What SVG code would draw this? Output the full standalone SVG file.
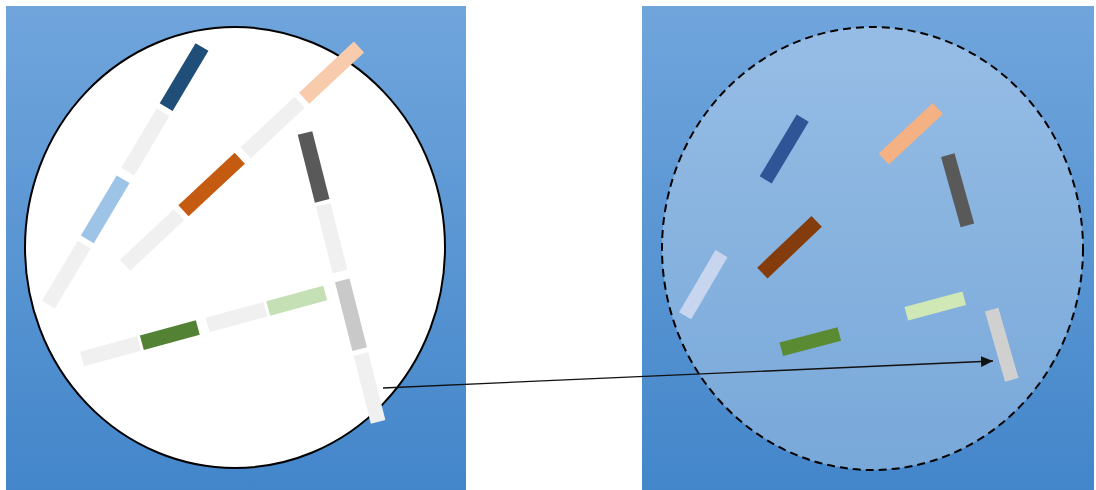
<svg xmlns="http://www.w3.org/2000/svg" width="1096" height="490" viewBox="0 0 1096 490">
<defs>
<linearGradient id="bg" x1="0" y1="0" x2="0" y2="1">
<stop offset="0" stop-color="#70a5dc"/>
<stop offset="1" stop-color="#4386ca"/>
</linearGradient>
<marker id="ah" markerWidth="13" markerHeight="11" refX="12" refY="5.5" orient="auto" markerUnits="userSpaceOnUse">
<path d="M0,0 L12,5.5 L0,11 Z" fill="#111"/>
</marker>
<style>
.lg{fill:#f0f0f0}
</style>
</defs>
<rect width="1096" height="490" fill="#ffffff"/>
<g id="left-panel">
<rect x="6" y="6" width="460" height="484" fill="url(#bg)"/>
<ellipse cx="235" cy="247.5" rx="210" ry="220.5" fill="#ffffff" stroke="#000" stroke-width="2"/>
</g>
<g id="strip1" transform="translate(202,47) rotate(120.8)">
<rect x="0" y="-7.5" width="70" height="15" fill="#1f4e79"/>
<rect class="lg" x="76" y="-7.5" width="69" height="15"/>
<rect x="154" y="-7.5" width="70" height="15" fill="#9dc3e6"/>
<rect class="lg" x="230" y="-7.5" width="70" height="15"/>
</g>
<g id="strip2" transform="translate(359,47) rotate(137)">
<rect x="0" y="-7.5" width="75" height="15" fill="#f8cbad"/>
<rect class="lg" x="81" y="-7.5" width="74" height="15"/>
<rect x="163" y="-7.5" width="77" height="15" fill="#c55a11"/>
<rect class="lg" x="246" y="-7.5" width="74" height="15"/>
</g>
<g id="strip3" transform="translate(305,133) rotate(75.8)">
<rect x="0" y="-7.5" width="70" height="15" fill="#595959"/>
<rect class="lg" x="74" y="-7.5" width="69" height="15"/>
<rect x="152" y="-7.5" width="71" height="15" fill="#c9c9c9"/>
<rect class="lg" x="228" y="-7.5" width="70" height="15"/>
</g>
<g id="strip4" transform="translate(82,359) rotate(-15.2)">
<rect class="lg" x="0" y="-7.5" width="59" height="15"/>
<rect x="62" y="-7.5" width="58" height="15" fill="#548235"/>
<rect class="lg" x="130" y="-7.5" width="60" height="15"/>
<rect x="193" y="-7.5" width="59" height="15" fill="#c5e0b4"/>
</g>
<g id="right-panel">
<rect x="642" y="6" width="452" height="484" fill="url(#bg)"/>
<ellipse cx="872.5" cy="248.5" rx="210.5" ry="221.5" fill="#ffffff" fill-opacity="0.28" stroke="#000" stroke-width="2" stroke-dasharray="8,5"/>
</g>
<g id="right-rects">
<rect id="r-darkblue" x="-36" y="-7" width="72" height="14" fill="#2f5597" transform="translate(784.2,149) rotate(120.9)"/>
<rect id="r-peach" x="-37" y="-7.5" width="74" height="15" fill="#f4b183" transform="translate(910.8,133.7) rotate(137)"/>
<rect id="r-darkgrey" x="-36.5" y="-7" width="73" height="14" fill="#595959" transform="translate(957.6,190.3) rotate(74.4)"/>
<rect id="r-brown" x="-37.5" y="-7.5" width="75" height="15" fill="#843c0c" transform="translate(789.5,247.2) rotate(136.4)"/>
<rect id="r-lavender" x="-36" y="-7" width="72" height="14" fill="#c8d5ee" transform="translate(703.3,284.7) rotate(120.3)"/>
<rect id="r-lightgreen" x="-30" y="-7" width="60" height="14" fill="#d0e8b6" transform="translate(935.3,306) rotate(-15)"/>
<rect id="r-green" x="-30" y="-7" width="60" height="14" fill="#5a8a32" transform="translate(810.3,341.7) rotate(-14.7)"/>
<rect id="r-lightgrey" x="-36.5" y="-7" width="73" height="14" fill="#d0d0d0" transform="translate(1001.7,344.7) rotate(74)"/>
</g>
<g id="connectors">
<line x1="383" y1="388" x2="993" y2="361" stroke="#111" stroke-width="1.3" marker-end="url(#ah)"/>
</g>
</svg>
